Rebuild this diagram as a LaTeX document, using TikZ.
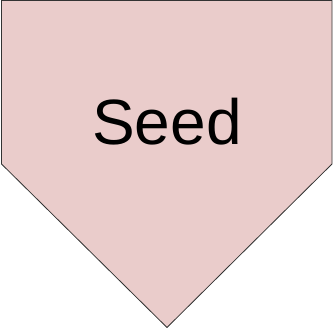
\documentclass[tikz,border=0pt]{standalone}
\usepackage{fontspec}
\setmainfont{Liberation Sans}
\definecolor{seedfill}{RGB}{234,204,203}
\begin{document}
\begin{tikzpicture}[x=1pt,y=1pt,
  plate/.style={fill=seedfill,draw=black!80,line width=0.8pt,line join=miter},
  lbl/.style={font=\fontsize{64}{72}\selectfont,anchor=base,inner sep=0pt}]
\useasboundingbox (0,0) rectangle (333,328);
\draw[plate] (1.5,327.5) -- (332,327.5) -- (332,164) -- (167,0.5) -- (1.5,164) -- cycle;
\node[lbl] (seed) at (167,183) {Seed};
\end{tikzpicture}
\end{document}
